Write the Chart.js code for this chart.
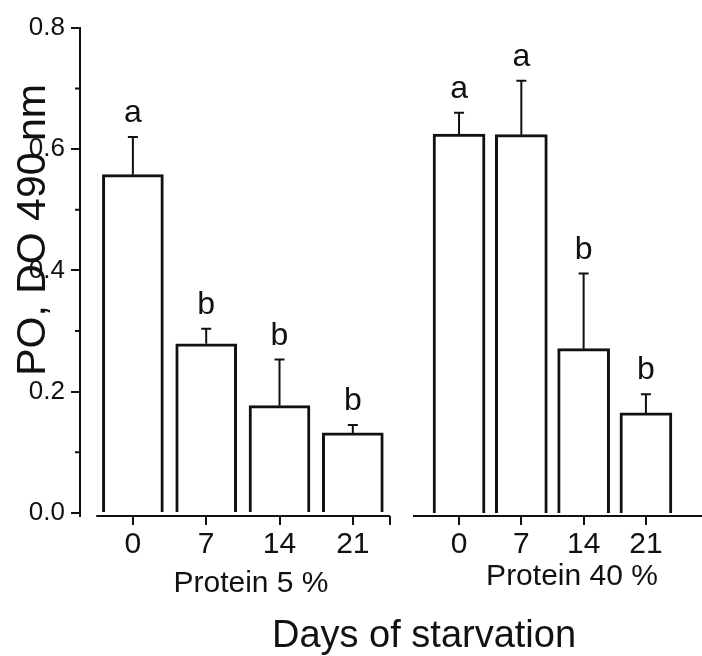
<!DOCTYPE html>
<html>
<head>
<meta charset="utf-8">
<script src="https://cdn.jsdelivr.net/npm/chart.js@4.4.1/dist/chart.umd.min.js"></script>
<style>
  html, body { margin: 0; padding: 0; background: #fff; }
  #wrap { position: relative; width: 702px; height: 656px; }
  canvas { position: absolute; left: 0; top: 0; }
</style>
</head>
<body>
<div id="wrap">
  <canvas id="left" width="702" height="656"></canvas>
  <canvas id="right" width="702" height="656"></canvas>
</div>
<script>
// data
const days = [0, 7, 14, 21];
const meanP5 = [0.558, 0.279, 0.177, 0.132];
const errP5 = [0.062, 0.025, 0.076, 0.013];
const groupP5 = ['a', 'b', 'b', 'b'];
const meanP40 = [0.625, 0.624, 0.271, 0.165];
const errP40 = [0.035, 0.089, 0.124, 0.031];
const groupP40 = ['a', 'a', 'b', 'b'];
const yTicks = [0, 0.2, 0.4, 0.6, 0.8];
const yMinor = [0.1, 0.3, 0.5, 0.7];

const INK = '#111';
const FONT = "'Liberation Sans', Arial, sans-serif";
Chart.defaults.font.family = FONT;
Chart.defaults.color = INK;

// error bars + significance letters on top of each bar
const errorBars = {
  id: 'errorBars',
  afterDatasetsDraw(chart, args, opts) {
    const ctx = chart.ctx, y = chart.scales.y;
    const bars = chart.getDatasetMeta(0).data;
    ctx.save();
    ctx.strokeStyle = INK;
    ctx.fillStyle = INK;
    ctx.lineWidth = 2;
    ctx.font = '32px ' + FONT;
    ctx.textAlign = 'center';
    ctx.textBaseline = 'alphabetic';
    bars.forEach((bar, i) => {
      const top = y.getPixelForValue(opts.means[i] + opts.errs[i]);
      ctx.beginPath();
      ctx.moveTo(bar.x, bar.y);
      ctx.lineTo(bar.x, top);
      ctx.moveTo(bar.x - 5, top);
      ctx.lineTo(bar.x + 5, top);
      ctx.stroke();
      ctx.fillText(opts.letters[i], bar.x, top - 15);
    });
    ctx.restore();
  }
};

// extra axis bits: x baseline (left panel), minor y ticks, free texts
const decor = {
  id: 'decor',
  afterDraw(chart, args, opts) {
    const ctx = chart.ctx, x = chart.scales.x, y = chart.scales.y;
    ctx.save();
    ctx.strokeStyle = INK;
    ctx.fillStyle = INK;
    ctx.lineWidth = 2;
    if (opts.baseline) {
      const b = chart.chartArea.bottom;
      ctx.beginPath();
      ctx.moveTo(x.getPixelForValue(opts.baseline[0]), b);
      ctx.lineTo(x.getPixelForValue(opts.baseline[1]), b);
      ctx.stroke();
    }
    if (opts.minor) {
      const l = chart.chartArea.left;
      ctx.beginPath();
      opts.minor.forEach(v => {
        const p = y.getPixelForValue(v);
        ctx.moveTo(l - 5, p);
        ctx.lineTo(l, p);
      });
      ctx.stroke();
    }
    (opts.texts || []).forEach(t => {
      ctx.save();
      ctx.font = t.size + 'px ' + FONT;
      ctx.textAlign = 'center';
      ctx.textBaseline = 'alphabetic';
      ctx.translate(t.x, t.y);
      if (t.rotate) ctx.rotate(-Math.PI / 2);
      ctx.fillText(t.text, 0, 0);
      ctx.restore();
    });
    ctx.restore();
  }
};

function panel(id, means, errs, letters, cfg) {
  return new Chart(document.getElementById(id), {
    type: 'bar',
    data: {
      datasets: [{
        data: days.map((d, i) => ({ x: d, y: means[i] })),
        backgroundColor: '#fff',
        borderColor: INK,
        borderWidth: 3,
        barThickness: cfg.barWidth
      }]
    },
    options: {
      responsive: false,
      animation: false,
      layout: { padding: cfg.padding },
      plugins: {
        legend: { display: false },
        tooltip: { enabled: false },
        errorBars: { means: means, errs: errs, letters: letters },
        decor: cfg.decor
      },
      scales: {
        x: {
          type: 'linear',
          offset: false,
          min: cfg.xMin,
          max: cfg.xMax,
          afterBuildTicks: s => { s.ticks = cfg.xTicks.map(v => ({ value: v })); },
          afterFit: s => { s.height = 140; },
          ticks: {
            font: { size: 30 },
            padding: 2,
            maxRotation: 0,
            autoSkip: false,
            callback: v => days.includes(v) ? String(v) : ''
          },
          grid: { offset: false, drawOnChartArea: false, tickLength: 9, lineWidth: 2, color: INK },
          border: { display: cfg.xBorder, width: 2, color: INK }
        },
        y: {
          display: cfg.showY,
          min: -0.005,
          max: 0.8,
          afterBuildTicks: s => { s.ticks = yTicks.map(v => ({ value: v })); },
          afterFit: s => { s.width = cfg.showY ? 80 : 0; },
          ticks: { font: { size: 26 }, padding: 6, callback: v => v.toFixed(1) },
          grid: { drawOnChartArea: false, tickLength: 9, lineWidth: 2, color: INK },
          border: { display: true, width: 2, color: INK }
        }
      }
    },
    plugins: [errorBars, decor]
  });
}

panel('left', meanP5, errP5, groupP5, {
  barWidth: 61,
  padding: { top: 28, right: 312, left: 0, bottom: 0 },
  xMin: -5.05, xMax: 24.55,
  xTicks: [0, 7, 14, 21, 24.55],
  xBorder: false,
  showY: true,
  decor: {
    baseline: [-3.5, 24.55],
    minor: yMinor,
    texts: [
      { text: 'PO, DO 490 nm', x: 45, y: 230, size: 41, rotate: true },
      { text: 'Protein 5 %', x: 251, y: 592, size: 30 },
      { text: 'Days of starvation', x: 424, y: 647, size: 38 }
    ]
  }
});

panel('right', meanP40, errP40, groupP40, {
  barWidth: 52,
  padding: { top: 28, right: 0, left: 414, bottom: 0 },
  xMin: -5.06, xMax: 27.3,
  xTicks: [0, 7, 14, 21],
  xBorder: true,
  showY: false,
  decor: {
    texts: [
      { text: 'Protein 40 %', x: 572, y: 585, size: 30 }
    ]
  }
});
</script>
</body>
</html>
